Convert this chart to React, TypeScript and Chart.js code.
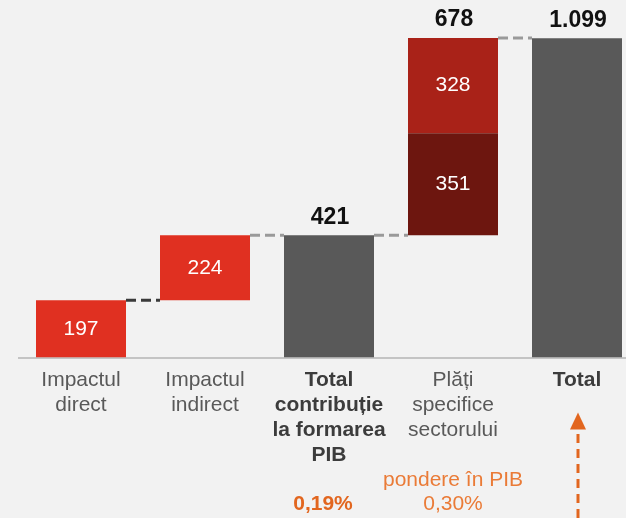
import React, { useEffect, useRef } from "react";
import { Chart, registerables } from "chart.js";

Chart.register(...registerables);

// ---- data ----
const categories: string[][] = [
  ["Impactul", "direct"],
  ["Impactul", "indirect"],
  ["Total", "contribuție", "la formarea", "PIB"],
  ["Plăți", "specifice", "sectorului"],
  ["Total"],
];
const boldCategory = [false, false, true, false, true];
const isTotalBar = [false, false, true, false, true];
const lowerValues = [197, 224, 421, 351, 1099];
const upperValues: (number | null)[] = [null, null, null, 328, null];
const topLabels: (number | null)[] = [null, null, 421, 678, 1099];
const gdpShareHeader = ["", "", "", "pondere în PIB", ""];
const gdpShare = ["", "", "0,19%", "0,30%", ""];
const gdpShareBold = [false, false, true, false, false];

// ---- styles ----
const FONT = "'Liberation Sans', Arial, sans-serif";
const RED = "#e03021";
const GREY = "#595959";
const DARK_RED = "#6d160f";
const MID_RED = "#a92218";
const ORANGE = "#ea7b37";
const ORANGE_DARK = "#e2661f";

// build floating ranges from the values
const lowerRanges: [number, number][] = [];
const upperRanges: ([number, number] | null)[] = [];
{
  let running = 0;
  lowerValues.forEach((v, i) => {
    if (isTotalBar[i]) {
      lowerRanges.push([0, v]);
      running = v;
    } else {
      lowerRanges.push([running, running + v]);
      running += v;
    }
    const u = upperValues[i];
    if (u != null) {
      upperRanges.push([running, running + u]);
      running += u;
    } else {
      upperRanges.push(null);
    }
  });
}
const lowerColors = [RED, RED, GREY, DARK_RED, GREY];

const fmt = (n: number) => String(n).replace(/\B(?=(\d{3})+(?!\d))/g, ".");

const overlayPlugin = {
  id: "overlay",
  afterDatasetsDraw(chart: any) {
    const ctx: CanvasRenderingContext2D = chart.ctx;
    const lower = chart.getDatasetMeta(0).data;
    const upper = chart.getDatasetMeta(1).data;
    const xScale = chart.scales.x;

    // top pixel of each category
    const tops = lower.map((el: any, i: number) => {
      const up = upperRanges[i] ? upper[i] : null;
      return up ? Math.min(up.y, up.base) : Math.min(el.y, el.base);
    });

    // connectors
    ctx.save();
    ctx.lineWidth = 3;
    ctx.setLineDash([10, 5]);
    for (let i = 0; i < lower.length - 1; i++) {
      const a = lower[i];
      const b = lower[i + 1];
      const y = tops[i];
      ctx.strokeStyle = i === 0 ? "#3a3a3a" : "#9a9a9a";
      ctx.beginPath();
      ctx.moveTo(a.x + a.width / 2, y);
      ctx.lineTo(b.x - b.width / 2, y);
      ctx.stroke();
    }
    ctx.restore();

    // labels inside bars
    ctx.save();
    ctx.fillStyle = "#ffffff";
    ctx.textAlign = "center";
    ctx.textBaseline = "middle";
    ctx.font = `21px ${FONT}`;
    lower.forEach((el: any, i: number) => {
      if (!isTotalBar[i]) {
        ctx.fillText(fmt(lowerValues[i]), el.x, (el.y + el.base) / 2);
      }
      const u = upperValues[i];
      if (u != null) {
        const ue = upper[i];
        ctx.fillText(fmt(u), ue.x, (ue.y + ue.base) / 2);
      }
    });
    // labels above bars
    ctx.fillStyle = "#111111";
    ctx.font = `bold 23px ${FONT}`;
    lower.forEach((el: any, i: number) => {
      const t = topLabels[i];
      if (t != null) ctx.fillText(fmt(t), el.x + 1, tops[i] - 18);
    });

    // GDP share annotations
    const base = xScale.top;
    lower.forEach((el: any, i: number) => {
      const x = xScale.getPixelForValue(i);
      if (gdpShareHeader[i]) {
        ctx.font = `21px ${FONT}`;
        ctx.fillStyle = ORANGE;
        ctx.fillText(gdpShareHeader[i], x, base + 122.5);
      }
      if (gdpShare[i]) {
        ctx.font = `${gdpShareBold[i] ? "bold " : ""}21px ${FONT}`;
        ctx.fillStyle = gdpShareBold[i] ? ORANGE_DARK : ORANGE;
        ctx.fillText(gdpShare[i], x - (gdpShareBold[i] ? 6 : 0), base + 147);
      }
    });

    // dashed arrow under "Total"
    const ax = xScale.getPixelForValue(lower.length - 1) + 1;
    ctx.strokeStyle = ORANGE_DARK;
    ctx.fillStyle = ORANGE_DARK;
    ctx.lineWidth = 3;
    ctx.setLineDash([9, 6]);
    ctx.beginPath();
    ctx.moveTo(ax, chart.height);
    ctx.lineTo(ax, base + 73);
    ctx.stroke();
    ctx.setLineDash([]);
    ctx.beginPath();
    ctx.moveTo(ax, base + 55);
    ctx.lineTo(ax - 8, base + 72);
    ctx.lineTo(ax + 8, base + 72);
    ctx.closePath();
    ctx.fill();
    ctx.restore();
  },
};

export default function App() {
  const canvasRef = useRef<HTMLCanvasElement | null>(null);

  useEffect(() => {
    document.body.style.margin = "0";
    document.body.style.background = "#f2f2f2";
    const canvas = canvasRef.current;
    if (!canvas) return;
    const chart = new Chart(canvas, {
      type: "bar",
      data: {
        labels: categories,
        datasets: [
          {
            label: "lower",
            data: lowerRanges as any,
            backgroundColor: lowerColors,
            grouped: false,
            barPercentage: 90 / 124,
            categoryPercentage: 1,
          } as any,
          {
            label: "upper",
            data: upperRanges as any,
            backgroundColor: MID_RED,
            grouped: false,
            barPercentage: 90 / 124,
            categoryPercentage: 1,
          } as any,
        ],
      },
      options: {
        responsive: false,
        animation: false,
        layout: { padding: { left: 19, right: 1, top: 9, bottom: 0 } },
        plugins: {
          legend: { display: false },
          tooltip: { enabled: false },
        },
        scales: {
          x: {
            grid: { display: false, drawTicks: false },
            border: { display: true, color: "#c4c4c4", width: 2 },
            afterFit: (scale: any) => {
              scale.height = 160.5;
            },
            ticks: {
              autoSkip: false,
              maxRotation: 0,
              minRotation: 0,
              padding: 10,
              color: (c: any) => (boldCategory[c.index] ? "#3c3c3c" : "#595959"),
              font: (c: any) => ({
                family: FONT,
                size: 21,
                weight: boldCategory[c.index] ? "bold" : "normal",
                lineHeight: 25 / 21,
              }),
            },
          } as any,
          y: {
            display: false,
            min: 0,
            max: 1200,
          },
        },
      },
      plugins: [overlayPlugin],
    });
    return () => chart.destroy();
  }, []);

  return (
    <div style={{ width: 626, height: 518, overflow: "hidden", background: "#f2f2f2", position: "relative" }}>
      <div style={{ width: 640, height: 518 }}>
        <canvas ref={canvasRef} width={640} height={518} style={{ display: "block" }} />
      </div>
    </div>
  );
}
